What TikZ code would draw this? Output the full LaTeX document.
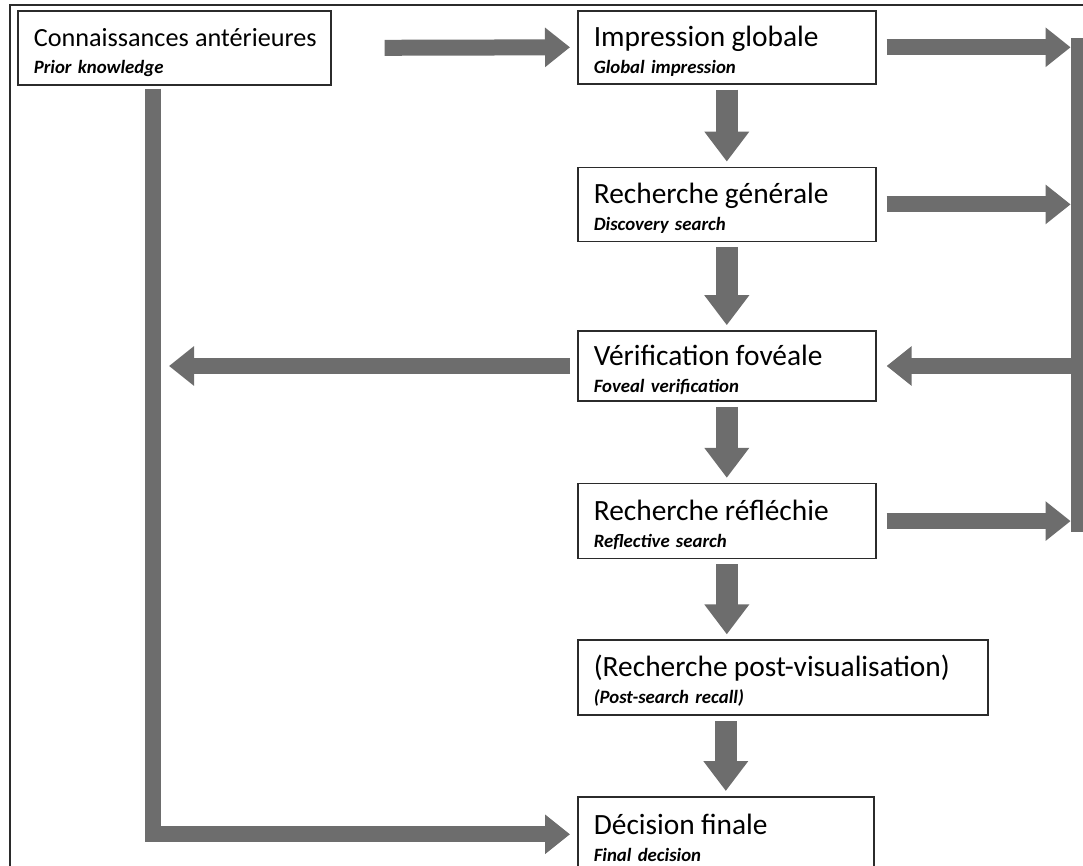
\documentclass[tikz,border=0pt]{standalone}
\usepackage{fontspec}
\setmainfont{Carlito}
\usepackage{tikz}
\usetikzlibrary{positioning, arrows.meta}
\definecolor{arrowgray}{HTML}{6D6D6D}
\definecolor{boxline}{HTML}{2B2B2B}

\newcommand{\stagetext}[3][14.7]{\mbox{\rule{0pt}{14pt}\fontsize{#1}{13.5}\selectfont #2}\\\mbox{\bfseries\itshape #3}}

\begin{document}
\begin{tikzpicture}[x=0.5pt, y=-0.5pt,
    stage/.style={draw=boxline, line width=0.8pt, rectangle, inner xsep=8pt, inner ysep=0pt,
      text width=133pt, minimum height=37pt, align=left,
      font=\fontsize{9.4}{13.5}\selectfont},
    fat/.style={draw=arrowgray, line width=8pt, line join=miter,
      -{Triangle[width=19pt, length=12.5pt]}},
    fatdown/.style={draw=arrowgray, line width=11pt,
      -{Triangle[width=21.5pt, length=15pt]}, shorten <=2.5pt, shorten >=2.5pt}]
  \useasboundingbox (0,0) rectangle (1083,866);
  % frame
  \draw[boxline, line width=1pt] (10,866) -- (10,5) -- (1083,5);

  \node[stage, anchor=north west, text width=140.5pt] (conn) at (17,10)
    {\stagetext[13.1]{Connaissances antérieures}{Prior knowledge}};
  \node[stage, anchor=north west, minimum height=36.5pt] (imp) at (577,10)
    {\stagetext{Impression globale}{Global impression}};
  \node[stage, below=41pt of imp.south west, anchor=north west] (gen)
    {\stagetext{Recherche générale}{Discovery search}};
  \node[stage, below=44pt of gen.south west, anchor=north west, minimum height=35pt] (verif)
    {\stagetext{Vérification fovéale}{Foveal verification}};
  \node[stage, below=40.5pt of verif.south west, anchor=north west, minimum height=37.5pt] (refl)
    {\stagetext{Recherche réfléchie}{Reflective search}};
  \node[stage, below=40pt of refl.south west, anchor=north west, text width=189pt, minimum height=37.5pt] (post)
    {\stagetext{(Recherche post-visualisation)}{(Post-search recall)}};
  \node[stage, below=40pt of post.south west, anchor=north west, text width=132pt, minimum height=37.5pt] (dec)
    {\stagetext{Décision finale}{Final decision}};

  % bar on the right
  \node[fill=arrowgray, inner sep=0pt, minimum width=6pt, minimum height=247pt] (bar) at (1077,285) {};
  \coordinate (leftbar) at (153,0);

  \draw[fat] ([xshift=26.5pt]conn.east) -- ([xshift=-3.5pt]imp.west);
  \draw[fat] ([xshift=5pt]imp.east) -- (bar.west |- imp.east);
  \draw[fat] ([xshift=5pt]gen.east) -- (bar.west |- gen.east);
  \draw[fat] ([xshift=5pt]refl.east) -- (bar.west |- refl.east);
  \draw[fat] (bar.west |- verif.east) -- ([xshift=5pt]verif.east);
  \draw[fat] ([xshift=-3.5pt]verif.west) -- ([xshift=8pt]verif.west -| leftbar);
  \draw[fat] ([yshift=-1.5pt]conn.south -| leftbar) |- ([xshift=-3.5pt]dec.west);

  \draw[fatdown] (imp) -- (gen);
  \draw[fatdown] (gen) -- (verif);
  \draw[fatdown] (verif) -- (refl);
  \draw[fatdown] (refl.south) -- (post.north -| refl.south);
  \draw[fatdown] (post.south -| dec.north) -- (dec.north);
\end{tikzpicture}
\end{document}
